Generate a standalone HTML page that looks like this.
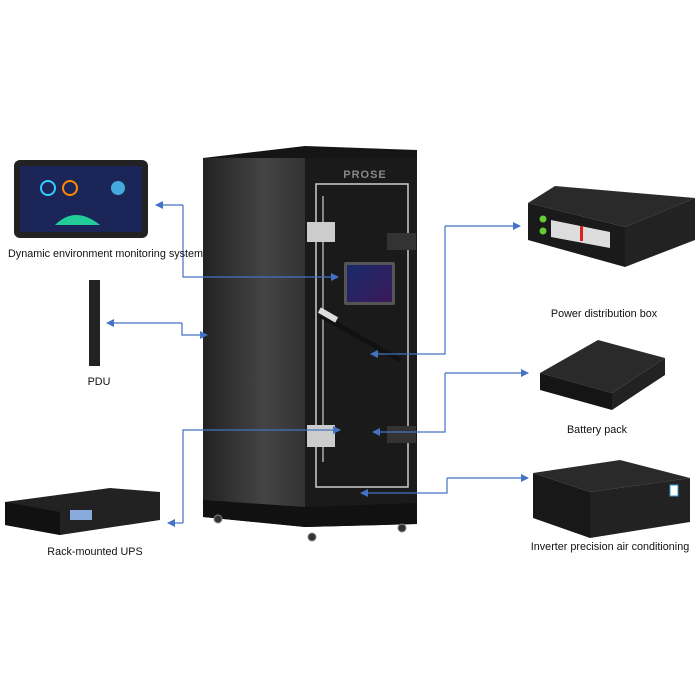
<!DOCTYPE html>
<html><head><meta charset="utf-8"><style>
html,body{margin:0;padding:0;background:#fff;}
svg{display:block;}
text{font-family:"Liberation Sans",sans-serif;font-size:10.8px;fill:#111;}
</style></head><body>
<svg width="700" height="700" viewBox="0 0 700 700" xmlns="http://www.w3.org/2000/svg">
<defs>
<linearGradient id="side" x1="0" x2="1"><stop offset="0" stop-color="#222"/><stop offset="0.6" stop-color="#444"/><stop offset="1" stop-color="#333"/></linearGradient>
<linearGradient id="scr" x1="0" y1="0" x2="1" y2="1"><stop offset="0" stop-color="#1a2a6a"/><stop offset="1" stop-color="#3a1a5a"/></linearGradient>
<marker id="ah" markerWidth="8" markerHeight="8" refX="7" refY="4" orient="auto" markerUnits="userSpaceOnUse"><path d="M0,0 L8,4 L0,8 z" fill="#4472C4"/></marker>
</defs>

<polygon points="203,158 305,146 417,150 417,158 305,158" fill="#151515"/>
<polygon points="203,158 305,158 305,527 203,517" fill="url(#side)"/>
<polygon points="305,158 417,158 417,524 305,527" fill="#1a1a1a"/>
<polygon points="203,500 305,507 417,503 417,524 305,527 203,517" fill="#111"/>
<circle cx="218" cy="519" r="4" fill="#333" stroke="#888"/>
<circle cx="312" cy="537" r="4" fill="#333" stroke="#888"/>
<circle cx="402" cy="528" r="4" fill="#333" stroke="#888"/>
<text x="365" y="178" text-anchor="middle" style="font-weight:bold;font-size:11px;fill:#888;letter-spacing:1px">PROSE</text>
<rect x="316" y="184" width="92" height="303" fill="none" stroke="#ccc" stroke-width="1.5"/>
<line x1="323" y1="196" x2="323" y2="462" stroke="#aaa" stroke-width="1.5"/>
<rect x="307" y="222" width="28" height="20" fill="#ccc"/>
<rect x="307" y="425" width="28" height="22" fill="#ccc"/>
<rect x="387" y="233" width="29" height="17" fill="#333"/>
<rect x="387" y="426" width="29" height="17" fill="#333"/>
<rect x="344" y="262" width="51" height="43" rx="2" fill="#555"/>
<rect x="347" y="265" width="45" height="37" fill="url(#scr)"/>
<line x1="320" y1="315" x2="400" y2="360" stroke="#111" stroke-width="5"/>
<rect x="318" y="312" width="20" height="6" fill="#ddd" transform="rotate(30 328 315)"/>

<rect x="14" y="160" width="134" height="78" rx="6" fill="#222"/>
<rect x="20" y="166" width="122" height="66" fill="#1b2558"/>
<circle cx="48" cy="188" r="7" fill="none" stroke="#3cf" stroke-width="2"/>
<circle cx="70" cy="188" r="7" fill="none" stroke="#f80" stroke-width="2"/>
<circle cx="118" cy="188" r="7" fill="#4ad"/>
<path d="M55,225 Q75,205 100,225 z" fill="#2c9"/>

<rect x="89" y="280" width="11" height="86" fill="#222"/>

<polygon points="5,502 110,488 160,492 160,520 60,535 5,525" fill="#222"/>
<polygon points="5,502 60,512 60,535 5,525" fill="#111"/>
<rect x="70" y="510" width="22" height="10" fill="#8ad"/>

<polygon points="528,203 555,186 695,198 625,227" fill="#2a2a2a"/>
<polygon points="528,203 625,227 625,267 528,240" fill="#1a1a1a"/>
<polygon points="625,227 695,198 695,240 625,267" fill="#222"/>
<circle cx="543" cy="219" r="3.5" fill="#6c3"/>
<circle cx="543" cy="231" r="3.5" fill="#6c3"/>
<polygon points="551,220 610,232 610,248 551,237" fill="#ddd"/>
<rect x="580" y="226" width="3" height="15" fill="#d22"/>

<polygon points="540,373 598,340 665,358 612,393" fill="#2a2a2a"/>
<polygon points="540,373 612,393 612,410 540,390" fill="#151515"/>
<polygon points="612,393 665,358 665,375 612,410" fill="#222"/>

<polygon points="533,473 620,460 690,478 590,492" fill="#2a2a2a"/>
<polygon points="533,473 590,492 590,538 533,518" fill="#181818"/>
<polygon points="590,492 690,478 690,522 590,538" fill="#222"/>
<rect x="670" y="485" width="8" height="11" fill="#fff" stroke="#39c"/>

<g fill="none" stroke="#4472C4" stroke-width="1.2">
<polyline points="183,205 183,277 338,277" marker-end="url(#ah)"/>
<line x1="183" y1="205" x2="156" y2="205" marker-end="url(#ah)"/>
<polyline points="182,323 182,335 207,335" marker-end="url(#ah)"/>
<line x1="182" y1="323" x2="107" y2="323" marker-end="url(#ah)"/>
<polyline points="183,523 183,430 340,430" marker-end="url(#ah)"/>
<line x1="183" y1="523" x2="168" y2="523" marker-end="url(#ah)"/>
<polyline points="445,226 445,354 371,354" marker-end="url(#ah)"/>
<line x1="445" y1="226" x2="520" y2="226" marker-end="url(#ah)"/>
<polyline points="445,373 445,432 373,432" marker-end="url(#ah)"/>
<line x1="445" y1="373" x2="528" y2="373" marker-end="url(#ah)"/>
<polyline points="447,478 447,493 361,493" marker-end="url(#ah)"/>
<line x1="447" y1="478" x2="528" y2="478" marker-end="url(#ah)"/>
</g>

<text x="8" y="257">Dynamic environment monitoring system</text>
<text x="99" y="385" text-anchor="middle">PDU</text>
<text x="95" y="555" text-anchor="middle">Rack-mounted UPS</text>
<text x="604" y="317" text-anchor="middle">Power distribution box</text>
<text x="597" y="433" text-anchor="middle">Battery pack</text>
<text x="610" y="550" text-anchor="middle">Inverter precision air conditioning</text>
</svg>
</body></html>
